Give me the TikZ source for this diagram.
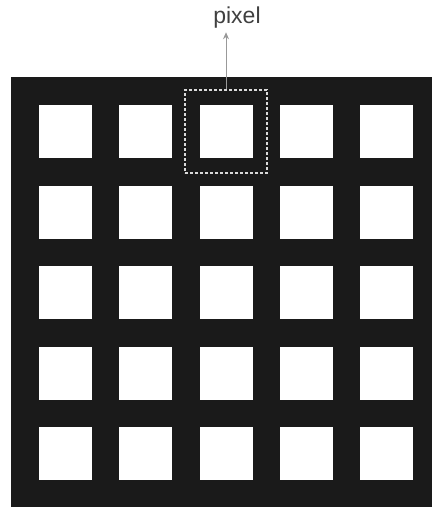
\documentclass[tikz,border=0pt]{standalone}
\usepackage{fontspec}
\setmainfont{Liberation Sans}
\usetikzlibrary{positioning,arrows.meta}
\usepackage{xcolor}
\definecolor{panelblack}{HTML}{1A1A1A}
\definecolor{labelgray}{HTML}{404040}
\definecolor{dashgray}{HTML}{DADADA}

\begin{document}
\begin{tikzpicture}[x=1pt, y=-1pt,
  cell/.style={fill=white, minimum size=53pt, inner sep=0pt},
  pixelbox/.style={draw=dashgray, line width=1.6pt, dash pattern=on 3pt off 2pt,
                   minimum width=82pt, minimum height=83pt, inner sep=0pt}]
  \useasboundingbox (0,0) rectangle (432,507);
  % Panel (black background)
  \fill[panelblack] (11,77) rectangle (432,507);
  % 5x5 grid of white cells
  \foreach \r in {0,...,4}{
    \foreach \c in {0,...,4}{
      \node[cell] (c\r\c) at ({65.5+80.25*\c}, {131.5+80.5*\r}) {};
    }
  }
  % Dashed outline round one pixel
  \node[pixelbox] (sel) at (c02) {};
  % Label on top
  \node[font=\fontsize{23}{27}\selectfont, text=labelgray] (lbl) at (237,18) {pixel};
  \draw[-{Stealth[length=7pt,width=6pt]}, gray!80, line width=1pt]
        (sel.north) -- (sel.north |- lbl.south);
\end{tikzpicture}
\end{document}
